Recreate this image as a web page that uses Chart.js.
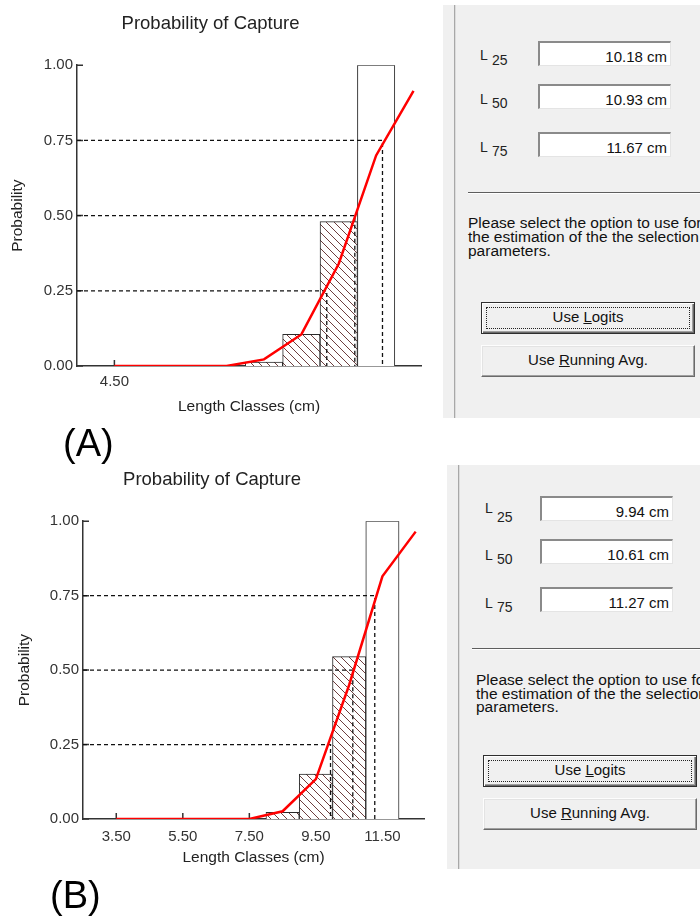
<!DOCTYPE html>
<html>
<head>
<meta charset="utf-8">
<title>Probability of Capture</title>
<script src="https://cdn.jsdelivr.net/npm/chart.js@4.4.1/dist/chart.umd.min.js"></script>
<style>
  body { margin: 0; background: #fff; font-family: "Liberation Sans", Arial, sans-serif; color: #111; }
  #page { position: relative; width: 700px; height: 917px; overflow: hidden; }
  canvas { position: absolute; left: 0; }
  .panel { position: absolute; background: #f0f0f0; }
  .sep { position: absolute; width: 1px; background: #a8a8a8; box-shadow: 1px 0 0 #dcdcdc; }
  .lbl { position: absolute; font-size: 14px; line-height: 14px; color: #222; white-space: nowrap; }
  .box { position: absolute; box-sizing: border-box; width: 133px; height: 25px; background: #fff;
         border-top: 2px solid #8a8a8a; border-left: 2px solid #8a8a8a;
         border-right: 1px solid #e4e4e4; border-bottom: 1px solid #e4e4e4;
         text-align: right; padding: 5px 3px 0 0; font-size: 15px; line-height: 18px; color: #111; white-space: nowrap; }
  .rule { position: absolute; height: 1px; background: #5e5e5e; border-bottom: 1px solid #fff; }
  .note { position: absolute; font-size: 15.5px; white-space: nowrap; color: #111; }
  .btn { position: absolute; box-sizing: border-box; width: 214px; height: 32px; background: #f0f0f0;
         text-align: center; font-size: 15px; line-height: 28px; color: #111; }
  .btn.def { border: 1px solid #2e2e2e; box-shadow: inset 1px 1px 0 #fff, inset -1px -1px 0 #6a6a6a, inset -2px -2px 0 #a0a0a0; }
  .btn.def .focus { position: absolute; left: 4px; top: 4px; right: 4px; bottom: 4px; border: 1px dotted #222; }
  .btn.plain { border: 1px solid; border-color: #fdfdfd #6a6a6a #6a6a6a #fdfdfd; box-shadow: inset -1px -1px 0 #a0a0a0, inset 1px 1px 0 #e3e3e3; }
  .btn span { position: relative; }
  .tag { position: absolute; font-size: 38px; line-height: 38px; color: #000; }
</style>
</head>
<body>
<div id="page">
  <canvas id="chartA" width="440" height="420" style="top:0"></canvas>
  <canvas id="chartB" width="440" height="420" style="top:460px"></canvas>

  <!-- side panel A -->
  <div class="panel" style="left:443px;top:5px;width:257px;height:413px"></div>
  <div class="sep" style="left:454px;top:5px;height:413px"></div>
  <div class="lbl" style="left:480px;top:48px">L</div><div class="lbl" style="left:492px;top:53px">25</div>
  <div class="lbl" style="left:480px;top:92px">L</div><div class="lbl" style="left:492px;top:96px">50</div>
  <div class="lbl" style="left:480px;top:140px">L</div><div class="lbl" style="left:492px;top:144px">75</div>
  <div class="box" id="a0" style="left:538px;top:41px"></div>
  <div class="box" id="a1" style="left:538px;top:84px"></div>
  <div class="box" id="a2" style="left:538px;top:132px"></div>
  <div class="rule" style="left:468px;top:192px;width:232px"></div>
  <div class="note" style="left:468px;top:216px;line-height:14.2px">Please select the option to use for<br>the estimation of the the selection<br>parameters.</div>
  <div class="btn def" style="left:481px;top:302px"><div class="focus"></div><span>Use <u>L</u>ogits</span></div>
  <div class="btn plain" style="left:481px;top:345px"><span>Use <u>R</u>unning Avg.</span></div>

  <!-- side panel B -->
  <div class="panel" style="left:447px;top:465px;width:253px;height:404px"></div>
  <div class="sep" style="left:458px;top:465px;height:404px"></div>
  <div class="lbl" style="left:485px;top:501px">L</div><div class="lbl" style="left:497px;top:510px">25</div>
  <div class="lbl" style="left:485px;top:548px">L</div><div class="lbl" style="left:497px;top:552px">50</div>
  <div class="lbl" style="left:485px;top:596px">L</div><div class="lbl" style="left:497px;top:600px">75</div>
  <div class="box" id="b0" style="left:540px;top:496px"></div>
  <div class="box" id="b1" style="left:540px;top:539px"></div>
  <div class="box" id="b2" style="left:540px;top:587px"></div>
  <div class="rule" style="left:472px;top:648px;width:228px"></div>
  <div class="note" style="left:476px;top:673px;line-height:13.7px">Please select the option to use for<br>the estimation of the the selection<br>parameters.</div>
  <div class="btn def" style="left:483px;top:755px"><div class="focus"></div><span>Use <u>L</u>ogits</span></div>
  <div class="btn plain" style="left:483px;top:798px"><span>Use <u>R</u>unning Avg.</span></div>

  <div class="tag" style="left:63px;top:424px">(A)</div>
  <div class="tag" style="left:50px;top:876px">(B)</div>
</div>

<script>
const probLevels = [0.25, 0.50, 0.75];
const yTicks = [0, 0.25, 0.50, 0.75, 1.00];

// (A)
const classMidA = [8.5, 9.5, 10.5, 11.5];
const observedA = [0.013, 0.105, 0.48, 1.00];
const curveLenA = [4.5, 5.5, 6.5, 7.5, 8.5, 9.5, 10.5, 11.5, 12.5];
const curveProbA = [0, 0, 0, 0, 0.022, 0.105, 0.34, 0.70, 0.915];
const lValuesA = [10.18, 10.93, 11.67];   // L25, L50, L75
const xTicksA = [4.5];

// (B)
const classMidB = [8.5, 9.5, 10.5, 11.5];
const observedB = [0.022, 0.151, 0.545, 1.00];
const curveLenB = [3.5, 4.5, 5.5, 6.5, 7.5, 8.5, 9.5, 10.5, 11.5, 12.5];
const curveProbB = [0, 0, 0, 0, 0, 0.026, 0.134, 0.45, 0.815, 0.965];
const lValuesB = [9.94, 10.61, 11.27];
const xTicksB = [3.5, 5.5, 7.5, 9.5, 11.5];

const FONT = '"Liberation Sans", Arial, sans-serif';

function hatchPattern() {
    const c = document.createElement('canvas');
    c.width = 8; c.height = 8;
    const g = c.getContext('2d');
    g.fillStyle = '#fff';
    g.fillRect(0, 0, 8, 8);
    g.strokeStyle = '#6e3e3e';
    g.lineWidth = 1;
    g.beginPath();
    g.moveTo(-8, 0); g.lineTo(8, 16);
    g.moveTo(0, 0); g.lineTo(8, 8);
    g.moveTo(0, -8); g.lineTo(16, 8);
    g.stroke();
    return g.createPattern(c, 'repeat');
}

// small tick marks pointing into the plot, as in the original
const innerTicks = {
    id: 'innerTicks',
    beforeDatasetsDraw(chart) {
        const {ctx, chartArea, scales} = chart;
        ctx.save();
        ctx.strokeStyle = '#333';
        ctx.lineWidth = 1.5;
        ctx.beginPath();
        scales.x.ticks.forEach(t => {
            const px = scales.x.getPixelForValue(t.value);
            ctx.moveTo(px, chartArea.bottom);
            ctx.lineTo(px, chartArea.bottom - 6);
        });
        scales.y.ticks.forEach(t => {
            const py = scales.y.getPixelForValue(t.value);
            ctx.moveTo(chartArea.left, py);
            ctx.lineTo(chartArea.left + 6, py);
        });
        ctx.stroke();
        ctx.restore();
    }
};

function drawPanel(id, p) {
    const hatch = hatchPattern();
    const n = p.observed.length;

    const datasets = [{
        type: 'bar',
        data: p.classMid.map((m, i) => ({x: m, y: p.observed[i]})),
        backgroundColor: p.observed.map((v, i) => i < n - 1 ? hatch : '#fff'),
        borderColor: '#2a2a2a',
        borderWidth: 1,
        categoryPercentage: 1,
        barPercentage: 1,
        order: 3
    }];

    probLevels.forEach((lev, i) => {
        datasets.push({
            type: 'line',
            data: [{x: p.xMin, y: lev}, {x: p.lValues[i], y: lev}, {x: p.lValues[i], y: 0}],
            borderColor: '#111',
            borderWidth: 1.3,
            borderDash: [4, 3],
            pointRadius: 0,
            order: 2
        });
    });

    datasets.push({
        type: 'line',
        data: p.curveLen.map((x, i) => ({x: x, y: p.curveProb[i]})),
        borderColor: '#ff0000',
        borderWidth: 2.5,
        pointRadius: 0,
        tension: 0,
        order: 1
    });

    new Chart(document.getElementById(id), {
        type: 'bar',
        data: {datasets: datasets},
        plugins: [innerTicks],
        options: {
            responsive: false,
            animation: false,
            events: [],
            layout: {padding: {left: 0, right: p.padRight, top: 0, bottom: 0}},
            plugins: {
                legend: {display: false},
                tooltip: {enabled: false},
                title: {
                    display: true,
                    text: 'Probability of Capture',
                    color: '#222',
                    font: {family: FONT, size: 18.5, weight: 'normal'},
                    padding: p.titlePad
                }
            },
            scales: {
                x: {
                    type: 'linear',
                    min: p.xMin,
                    max: p.xMax,
                    offset: false,
                    afterBuildTicks: s => { s.ticks = p.xTicks.map(v => ({value: v})); },
                    afterFit: s => { s.height = p.xAxisH; },
                    grid: {display: false, drawTicks: false},
                    border: {display: true, color: '#333', width: 1.5},
                    ticks: {
                        color: '#333',
                        padding: p.xTickPad,
                        maxRotation: 0,
                        font: {family: FONT, size: 15},
                        callback: v => Number(v).toFixed(2)
                    },
                    title: {
                        display: true,
                        text: 'Length Classes (cm)',
                        color: '#222',
                        font: {family: FONT, size: 15.5},
                        padding: {top: 0, bottom: p.xTitlePad}
                    }
                },
                y: {
                    min: 0,
                    max: 1,
                    afterBuildTicks: s => { s.ticks = yTicks.map(v => ({value: v})); },
                    afterFit: s => { s.width = p.yAxisW; },
                    grid: {display: false, drawTicks: false},
                    border: {display: true, color: '#333', width: 1.5},
                    ticks: {
                        color: '#333',
                        padding: 4,
                        font: {family: FONT, size: 15},
                        callback: v => Number(v).toFixed(2)
                    },
                    title: {
                        display: true,
                        text: 'Probability',
                        color: '#222',
                        font: {family: FONT, size: 15.5},
                        padding: {top: p.yTitlePad, bottom: 0}
                    }
                }
            }
        }
    });
}

drawPanel('chartA', {
    classMid: classMidA, observed: observedA, curveLen: curveLenA, curveProb: curveProbA,
    lValues: lValuesA, xTicks: xTicksA,
    xMin: 3.5, xMax: 12.7, yAxisW: 77, xAxisH: 54, padRight: 19,
    titlePad: {top: 13, bottom: 30}, yTitlePad: 8, xTitlePad: 4, xTickPad: 7
});

drawPanel('chartB', {
    classMid: classMidB, observed: observedB, curveLen: curveLenB, curveProb: curveProbB,
    lValues: lValuesB, xTicks: xTicksB,
    xMin: 2.5, xMax: 12.75, yAxisW: 83, xAxisH: 61, padRight: 16,
    titlePad: {top: 9, bottom: 30}, yTitlePad: 15, xTitlePad: 13, xTickPad: 9
});

// text boxes on the right show the same L25 / L50 / L75 values
lValuesA.forEach((v, i) => { document.getElementById('a' + i).textContent = v.toFixed(2) + ' cm'; });
lValuesB.forEach((v, i) => { document.getElementById('b' + i).textContent = v.toFixed(2) + ' cm'; });
</script>
</body>
</html>
